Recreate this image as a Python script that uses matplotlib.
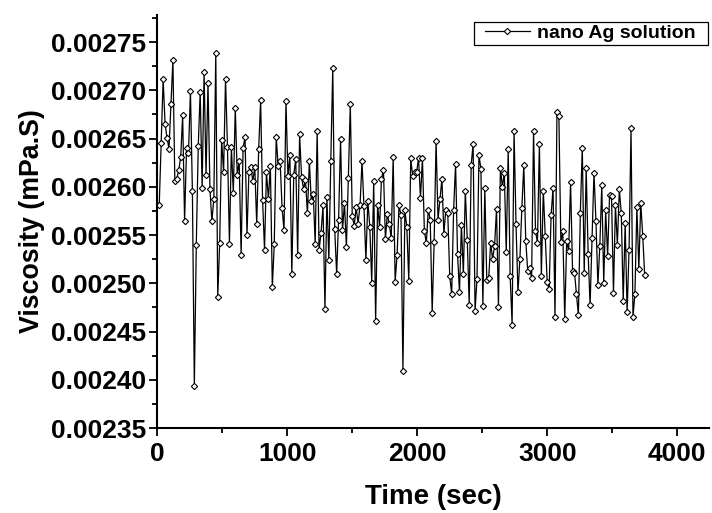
import matplotlib
matplotlib.use("Agg")
import matplotlib.pyplot as plt
from matplotlib.patches import Rectangle
from matplotlib.ticker import MultipleLocator, FormatStrFormatter

plt.rcParams['font.family'] = ['Liberation Sans', 'DejaVu Sans']
plt.rcParams['font.weight'] = 'bold'

# Time (sec): one reading every 15 s
time_sec = [15 * k for k in range(1, 251)]

# Viscosity (mPa.S)
viscosity = [
    0.0025816, 0.0026456, 0.0027113, 0.0026646, 0.0026508, 0.0026393, 0.0026853, 0.0027310, 0.0026058, 0.0026082,
    0.0026172, 0.0026307, 0.0026739, 0.0025643, 0.0026400, 0.0026352, 0.0026988, 0.0025954, 0.0023935, 0.0025401,
    0.0026421, 0.0026981, 0.0025989, 0.0027189, 0.0026124, 0.0027075, 0.0025979, 0.0025643, 0.0025875, 0.0027389,
    0.0024858, 0.0025418, 0.0026487, 0.0026151, 0.0027120, 0.0026411, 0.0025411, 0.0026411, 0.0025937, 0.0026819,
    0.0026124, 0.0026262, 0.0025290, 0.0026400, 0.0026518, 0.0025498, 0.0026151, 0.0026207, 0.0026058, 0.0026207,
    0.0025609, 0.0026387, 0.0026895, 0.0025861, 0.0025349, 0.0026151, 0.0025875, 0.0026214, 0.0024959, 0.0025411,
    0.0026518, 0.0026214, 0.0026266, 0.0025781, 0.0025550, 0.0026888, 0.0026113, 0.0026324, 0.0025097, 0.0026124,
    0.0026286, 0.0025297, 0.0026542, 0.0026103, 0.0025979, 0.0026072, 0.0025723, 0.0026262, 0.0025851, 0.0025923,
    0.0025408, 0.0026577, 0.0025349, 0.0025522, 0.0025806, 0.0024737, 0.0025892, 0.0025242, 0.0026272, 0.0027227,
    0.0025560, 0.0025097, 0.0025660, 0.0026494, 0.0025547, 0.0025833, 0.0025377, 0.0026093, 0.0026853, 0.0025692,
    0.0025598, 0.0025788, 0.0025619, 0.0025809, 0.0026262, 0.0025799, 0.0025242, 0.0025851, 0.0025588, 0.0025007,
    0.0026058, 0.0024606, 0.0025816, 0.0025581, 0.0026082, 0.0026176, 0.0025456, 0.0025719, 0.0025609, 0.0025467,
    0.0026307, 0.0025017, 0.0025294, 0.0025806, 0.0025705, 0.0024094, 0.0025754, 0.0025581, 0.0025028, 0.0026293,
    0.0026110, 0.0026148, 0.0026152, 0.0026293, 0.0025885, 0.0026293, 0.0025539, 0.0025418, 0.0025764, 0.0025660,
    0.0024696, 0.0025429, 0.0026473, 0.0025660, 0.0025871, 0.0026082, 0.0025515, 0.0025764, 0.0025723, 0.0025073,
    0.0024889, 0.0025760, 0.0026238, 0.0025308, 0.0024907, 0.0025602, 0.0025097, 0.0025961, 0.0025453, 0.0024779,
    0.0026224, 0.0026445, 0.0024716, 0.0025048, 0.0026328, 0.0026186, 0.0024768, 0.0025982, 0.0025038, 0.0025055,
    0.0025418, 0.0025252, 0.0025384, 0.0025771, 0.0024751, 0.0026196, 0.0025996, 0.0026145, 0.0025322, 0.0026387,
    0.0025073, 0.0024571, 0.0026577, 0.0025619, 0.0024907, 0.0025252, 0.0025781, 0.0026224, 0.0025443, 0.0025131,
    0.0025159, 0.0025055, 0.0026577, 0.0025546, 0.0025418, 0.0026445, 0.0025080, 0.0025961, 0.0025491, 0.0025014,
    0.0024941, 0.0025705, 0.0025985, 0.0024651, 0.0026777, 0.0026729, 0.0025429, 0.0025539, 0.0024633, 0.0025443,
    0.0025332, 0.0026051, 0.0025131, 0.0025111, 0.0024889, 0.0024668, 0.0025730, 0.0026404, 0.0025107, 0.0026196,
    0.0025308, 0.0024772, 0.0025470, 0.0026145, 0.0025650, 0.0024986, 0.0025387, 0.0026017, 0.0025007, 0.0025754,
    0.0025280, 0.0025913, 0.0025902, 0.0024900, 0.0025809, 0.0025401, 0.0025972, 0.0025730, 0.0024813, 0.0025626,
    0.0024699, 0.0025349, 0.0026604, 0.0024651, 0.0024889, 0.0025792, 0.0025149, 0.0025833, 0.0025494, 0.0025090,
]

series_label = "nano Ag solution"
x_label = "Time (sec)"
y_label = "Viscosity (mPa.S)"

W, H = 712, 513
fig = plt.figure(figsize=(W / 100, H / 100), dpi=100)
ax = fig.add_axes([157.3 / W, 1 - 428 / H, (709 - 157.3) / W, (428 - 15) / H])

ax.plot(time_sec, viscosity, color='black', linewidth=0.9,
        marker='D', markersize=3.2, markerfacecolor='white',
        markeredgecolor='black', markeredgewidth=0.8, label=series_label)

ax.set_xlim(0, 4245)
ax.set_ylim(0.00235, 0.002778)

ax.xaxis.set_major_locator(MultipleLocator(1000))
ax.xaxis.set_minor_locator(MultipleLocator(500))
ax.yaxis.set_major_locator(MultipleLocator(0.00005))
ax.yaxis.set_minor_locator(MultipleLocator(0.000025))
ax.yaxis.set_major_formatter(FormatStrFormatter('%.5f'))

for side in ['top', 'right']:
    ax.spines[side].set_visible(False)
for side in ['left', 'bottom']:
    ax.spines[side].set_linewidth(1.5)

ax.tick_params(axis='both', which='major', direction='out', length=6, width=1.3,
               labelsize=19, pad=2)
ax.tick_params(axis='x', which='major', pad=4)
ax.tick_params(axis='both', which='minor', direction='out', length=3.5, width=1.3)
for lbl in ax.get_xticklabels() + ax.get_yticklabels():
    lbl.set_fontweight('bold')

ax.set_xlabel(x_label, fontsize=20, fontweight='bold', labelpad=13)
ax.set_ylabel(y_label, fontsize=19.3, fontweight='bold', labelpad=4)

leg = ax.legend(loc='center left', bbox_to_anchor=(485 / W, 1 - 33.5 / H),
                bbox_transform=fig.transFigure, borderaxespad=0, borderpad=0,
                frameon=False, prop={'size': 14, 'weight': 'bold'},
                handlelength=2.3, handletextpad=0.35, numpoints=1)
fig.patches.append(Rectangle((474 / W, 1 - 45 / H), (708 - 474) / W, 23 / H,
                             transform=fig.transFigure, fill=False,
                             edgecolor='black', linewidth=0.9))

fig.savefig('out.png', dpi=100)
